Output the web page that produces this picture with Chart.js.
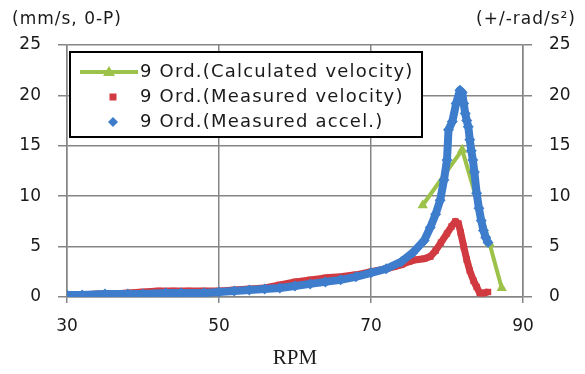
<!DOCTYPE html>
<html>
<head>
<meta charset="utf-8">
<script src="https://cdn.jsdelivr.net/npm/chart.js@4/dist/chart.umd.min.js"></script>
<style>
  html, body { margin: 0; padding: 0; background: #fff; overflow: hidden; }
  #rpm-chart { display: block; }
</style>
</head>
<body>
<canvas id="rpm-chart" width="585" height="374"></canvas>
<script>
// 9th order, calculated velocity (mm/s 0-P)
const calcRpm = [76.8, 82.0, 85.6, 87.2];
const calcVel = [9.1, 14.6, 5.3, 0.9];

// 9th order, measured velocity (mm/s 0-P)
const velRpm = [30, 32, 34, 36, 38, 40, 42, 44, 46, 48, 50, 52, 54, 56, 58, 60, 62, 64, 66, 68,
  70, 72, 73, 74, 75, 76, 77, 77.8, 78.5, 79.2, 80, 80.6, 81.1, 81.5, 81.8, 82.2, 82.6, 83, 83.5, 83.9,
  84.3, 84.8, 85.4];
const velVals = [0.1, 0.2, 0.3, 0.3, 0.4, 0.5, 0.6, 0.6, 0.6, 0.6, 0.6, 0.7, 0.8, 0.9, 1.2, 1.5, 1.7, 1.9, 2.0, 2.2,
  2.5, 2.8, 3.0, 3.2, 3.5, 3.7, 3.8, 4.0, 4.6, 5.4, 6.3, 7.0, 7.5, 7.3, 6.4, 5.0, 3.7, 2.6, 1.6, 1.0,
  0.4, 0.4, 0.5];

// 9th order, measured accel (+/-rad/s^2)
const accRpm = [30, 32, 35, 38, 40, 43, 45, 48, 50, 52, 54, 56, 58, 60, 62, 64, 66, 68, 70, 72,
  74, 75.5, 77, 77.8, 78.5, 79.1, 79.6, 80, 80.2, 80.7, 81.2, 81.7, 82.0, 82.2, 82.4, 82.6, 82.8, 83.0, 83.2, 83.4,
  83.6, 83.9, 84.2, 84.5, 84.8, 85.1, 85.4];
const accVals = [0.2, 0.2, 0.3, 0.3, 0.3, 0.4, 0.4, 0.4, 0.5, 0.6, 0.7, 0.8, 0.9, 1.1, 1.3, 1.5, 1.7, 2.0, 2.4, 2.8,
  3.5, 4.4, 5.6, 6.9, 8.2, 9.6, 11.6, 13.6, 16.6, 17.4, 19.2, 20.5, 20.3, 19.2, 18.2, 17.5, 16.9, 15.6, 14.5, 13.6,
  12.4, 10.3, 8.8, 7.6, 6.6, 5.9, 5.4];

const legendLabels = ['9 Ord.(Calculated velocity)', '9 Ord.(Measured velocity)', '9 Ord.(Measured accel.)'];
const leftUnit = '(mm/s, 0-P)';
const rightUnit = '(+/-rad/s\u00B2)';
const xTitle = 'RPM';

const GREEN = '#9cc24a';
const RED = '#d03a40';
const BLUE = '#3d7dcc';
const TEXT = '#1a1a1a';

const toXY = (xs, ys) => xs.map((x, i) => ({ x: x, y: ys[i] }));

// legend box + unit captions drawn on top of the plot
const overlayPlugin = {
  id: 'overlay',
  afterDraw(chart) {
    const ctx = chart.ctx;
    ctx.save();
    ctx.fillStyle = TEXT;
    ctx.textBaseline = 'middle';
    ctx.font = '17px "DejaVu Sans"';
    ctx.letterSpacing = '1px';
    ctx.textAlign = 'left';
    ctx.fillText(leftUnit, 12, 20);
    ctx.textAlign = 'right';
    ctx.fillText(rightUnit, 576, 20);

    // legend
    ctx.fillStyle = '#fff';
    ctx.fillRect(70, 52, 352, 85);
    ctx.strokeStyle = '#000';
    ctx.lineWidth = 2;
    ctx.strokeRect(70, 52, 352, 85);

    // row 1: line + triangle
    ctx.strokeStyle = GREEN;
    ctx.lineWidth = 4;
    ctx.beginPath();
    ctx.moveTo(80, 72);
    ctx.lineTo(138, 72);
    ctx.stroke();
    ctx.fillStyle = GREEN;
    ctx.beginPath();
    ctx.moveTo(109, 66);
    ctx.lineTo(115, 76);
    ctx.lineTo(103, 76);
    ctx.closePath();
    ctx.fill();

    // row 2: square
    ctx.fillStyle = RED;
    ctx.fillRect(109.5, 93.5, 7, 7);

    // row 3: diamond
    ctx.fillStyle = BLUE;
    ctx.beginPath();
    ctx.moveTo(113, 117);
    ctx.lineTo(118, 122);
    ctx.lineTo(113, 127);
    ctx.lineTo(108, 122);
    ctx.closePath();
    ctx.fill();

    ctx.fillStyle = TEXT;
    ctx.textAlign = 'left';
    ctx.font = '18px "DejaVu Sans"';
    ctx.letterSpacing = '1.2px';
    ctx.fillText(legendLabels[0], 140, 72);
    ctx.fillText(legendLabels[1], 140, 97);
    ctx.fillText(legendLabels[2], 140, 122);
    ctx.restore();
  }
};

const ctx = document.getElementById('rpm-chart').getContext('2d');
const rpmChart = new Chart(ctx, {
  type: 'scatter',
  data: {
    datasets: [
      {
        label: legendLabels[2],
        data: toXY(accRpm, accVals),
        yAxisID: 'y2',
        showLine: true,
        borderColor: BLUE,
        backgroundColor: BLUE,
        borderWidth: 8,
        borderJoinStyle: 'round',
        pointStyle: 'rectRot',
        pointRadius: 5.5,
        pointBorderWidth: 0,
        order: 1
      },
      {
        label: legendLabels[1],
        data: toXY(velRpm, velVals),
        yAxisID: 'y',
        showLine: true,
        borderColor: RED,
        backgroundColor: RED,
        borderWidth: 7,
        borderJoinStyle: 'round',
        pointStyle: 'rect',
        pointRadius: 4.5,
        pointBorderWidth: 0,
        order: 2
      },
      {
        label: legendLabels[0],
        data: toXY(calcRpm, calcVel),
        yAxisID: 'y',
        showLine: true,
        borderColor: GREEN,
        backgroundColor: GREEN,
        borderWidth: 4,
        pointStyle: 'triangle',
        pointRadius: 6,
        pointBorderWidth: 0,
        order: 3
      }
    ]
  },
  options: {
    responsive: false,
    animation: false,
    devicePixelRatio: 1,
    layout: { padding: { top: 45, left: 0, right: 0, bottom: 0 } },
    plugins: {
      legend: { display: false },
      tooltip: { enabled: false }
    },
    scales: {
      x: {
        type: 'linear',
        min: 30,
        max: 90,
        ticks: {
          stepSize: 20,
          padding: 13,
          color: TEXT,
          font: { family: 'DejaVu Sans', size: 17 }
        },
        grid: { color: '#858585', lineWidth: 1.5, tickLength: 6 },
        border: { color: '#858585', width: 1.5 },
        title: {
          display: true,
          text: xTitle,
          color: TEXT,
          font: { family: 'Liberation Serif', size: 21 },
          padding: { top: 6, bottom: 3 }
        },
        afterFit: (scale) => { scale.height = 77; }
      },
      y: {
        position: 'left',
        min: 0,
        max: 25,
        ticks: {
          stepSize: 5,
          padding: 17,
          color: TEXT,
          font: { family: 'DejaVu Sans', size: 17 }
        },
        grid: { color: '#858585', lineWidth: 1.5, tickLength: 9 },
        border: { color: '#858585', width: 1.5 },
        afterFit: (scale) => { scale.width = 67; }
      },
      y2: {
        position: 'right',
        min: 0,
        max: 25,
        ticks: {
          stepSize: 5,
          padding: 17,
          color: TEXT,
          font: { family: 'DejaVu Sans', size: 17 }
        },
        grid: { color: '#858585', lineWidth: 1.5, tickLength: 9, drawOnChartArea: false },
        border: { color: '#858585', width: 1.5 },
        afterFit: (scale) => { scale.width = 62; }
      }
    }
  },
  plugins: [overlayPlugin]
});
</script>
</body>
</html>
